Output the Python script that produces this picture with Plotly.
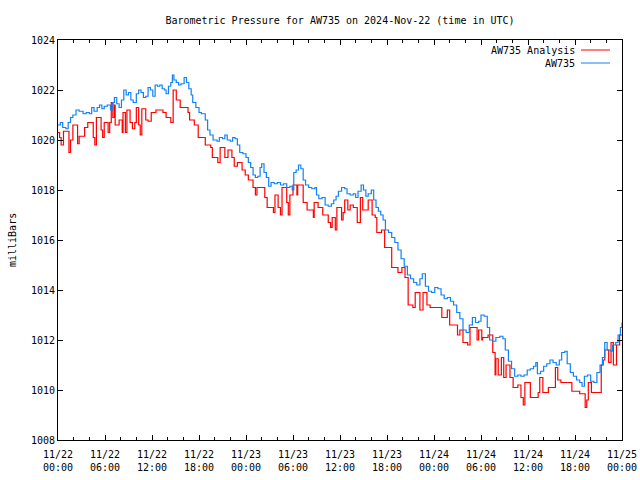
import pandas as pd
import plotly.graph_objects as go

# ---- data (hours since 2024-11-22 00:00 UTC, pressure in mb) ----
obs_hours = [0.0,0.3,0.6,1.0,1.3,1.6,1.9,2.3,2.7,3.2,3.6,4.0,4.3,4.6,5.0,5.3,5.6,5.9,6.3,6.7,
             7.0,7.2,7.5,7.8,8.1,8.4,8.7,9.0,9.3,9.6,10.0,10.3,10.6,10.9,11.2,11.5,11.8,12.1,12.4,12.7,
             13.0,13.3,13.6,13.8,14.1,14.4,14.6,14.8,15.1,15.4,15.7,16.1,16.4,16.7,17.0,17.2,17.6,18.0,18.3,18.8,
             19.1,19.4,19.8,20.3,20.6,21.0,21.3,21.6,22.0,22.3,22.6,22.9,23.2,23.6,24.0,24.3,24.6,24.9,25.2,25.5,
             25.8,26.0,26.3,26.6,26.9,27.2,27.6,28.0,28.4,28.8,29.2,29.6,29.9,30.1,30.4,30.7,31.0,31.3,31.6,32.0,
             32.4,32.8,33.0,33.3,33.7,34.1,34.5,34.9,35.2,35.5,35.8,36.2,36.6,36.9,37.3,37.7,38.0,38.3,38.7,39.0,
             39.3,39.6,40.0,40.3,40.6,40.9,41.2,41.5,41.8,42.2,42.6,43.0,43.4,43.8,44.2,44.6,45.0,45.4,45.8,46.2,
             46.5,46.9,47.3,47.7,48.1,48.5,48.9,49.3,49.7,50.1,50.5,50.9,51.3,51.7,52.1,52.5,52.9,53.3,53.7,54.0,
             54.4,54.8,55.1,55.5,55.9,56.4,56.8,57.1,57.5,57.9,58.3,58.7,59.1,59.5,59.9,60.3,60.7,61.0,61.2,61.6,
             62.0,62.4,62.8,63.2,63.6,64.0,64.3,64.7,65.0,65.4,65.8,66.2,66.6,66.9,67.2,67.6,68.0,68.4,68.8,69.2,
             69.5,69.8,70.1,70.5,70.8,71.2,71.5,71.8,72.0]
obs_mb = [1020.6,1020.7,1020.5,1020.45,1020.7,1020.9,1021.0,1021.2,1021.15,1021.05,1021.1,1021.05,1021.3,1021.15,1021.3,1021.4,1021.25,1021.35,1021.4,1021.2,
          1021.5,1021.7,1021.45,1021.3,1021.6,1022.0,1021.8,1021.9,1021.6,1021.5,1021.85,1022.0,1021.9,1021.7,1021.75,1022.1,1022.0,1021.75,1022.2,1022.15,
          1022.2,1022.05,1022.0,1021.85,1022.15,1022.3,1022.6,1022.4,1022.3,1022.2,1022.25,1022.5,1022.3,1022.05,1021.8,1021.5,1021.3,1021.1,1021.05,1020.8,
          1020.4,1020.2,1020.0,1019.95,1020.1,1020.05,1020.2,1020.0,1019.95,1020.1,1020.05,1019.8,1019.5,1019.45,1019.3,1019.1,1018.9,1018.6,1018.5,1018.55,
          1018.9,1019.05,1018.7,1018.5,1018.15,1018.3,1018.25,1018.3,1018.2,1018.25,1018.1,1018.15,1018.0,1018.7,1018.8,1019.0,1018.85,1018.4,1018.2,1018.1,
          1018.05,1018.1,1017.8,1017.65,1017.7,1017.4,1017.35,1017.45,1017.6,1017.75,1017.95,1018.1,1018.05,1017.85,1017.8,1017.85,1017.7,1017.95,1018.2,1018.0,
          1017.75,1017.85,1018.0,1017.6,1017.3,1017.15,1017.0,1016.8,1016.4,1016.3,1016.1,1015.9,1015.6,1015.25,1014.95,1014.6,1014.45,1014.3,1014.2,1014.45,
          1014.65,1014.15,1013.95,1013.9,1014.1,1014.05,1013.8,1013.65,1013.7,1013.55,1013.4,1013.1,1012.85,1012.4,1012.3,1012.6,1012.9,1012.7,1012.75,1013.0,
          1012.95,1012.5,1012.0,1011.95,1012.1,1012.15,1012.05,1011.6,1011.15,1010.85,1010.55,1010.6,1010.55,1010.6,1010.8,1010.85,1010.95,1011.1,1010.65,1010.75,
          1010.95,1011.05,1011.2,1011.1,1011.0,1011.2,1011.5,1011.55,1011.05,1010.7,1010.55,1010.4,1010.3,1010.15,1010.55,1010.6,1010.35,1010.3,1010.7,1011.0,
          1011.3,1011.9,1011.6,1011.55,1011.8,1011.9,1012.2,1012.5,1012.7]

ana_hours = [0.0,0.2,0.4,0.7,1.4,1.6,1.9,2.5,2.7,3.4,3.8,4.5,4.7,4.9,5.5,5.7,5.9,6.4,6.6,6.8,
             7.0,7.2,7.3,7.8,8.2,8.3,8.6,8.8,9.2,9.5,9.8,10.0,10.3,10.5,10.7,11.2,11.5,11.9,12.5,13.4,
             13.8,14.4,14.7,15.1,15.6,16.6,16.8,17.4,17.9,18.8,19.5,19.7,20.4,20.7,21.3,21.7,22.2,22.5,22.9,23.5,
             23.9,24.3,24.9,25.2,25.4,26.4,26.7,27.5,27.7,28.1,28.4,28.6,29.2,29.4,29.6,30.0,30.5,30.6,31.3,31.8,
             32.6,32.7,33.2,33.8,34.5,34.8,35.0,35.4,35.6,36.2,36.4,36.6,37.0,37.3,37.7,38.2,38.6,38.9,39.6,40.1,
             40.5,40.7,41.3,41.7,42.6,43.4,43.9,44.3,44.7,45.3,45.6,46.2,46.6,47.1,47.5,49.0,49.7,50.0,51.0,51.3,
             51.7,52.3,52.6,53.5,53.7,54.1,54.2,54.9,55.5,55.8,55.9,56.2,56.6,56.9,57.2,57.7,58.1,58.7,59.1,59.4,
             59.6,60.3,61.3,61.5,61.9,62.6,63.5,63.8,64.2,65.6,66.6,67.3,67.5,67.7,68.1,69.35,69.6,69.8,70.3,70.6,
             70.9,71.3,71.7,72.0]
ana_mb = [1020.3,1020.1,1019.8,1020.35,1019.5,1020.0,1020.6,1019.85,1020.15,1020.5,1020.7,1020.1,1019.8,1020.9,1020.4,1020.1,1020.7,1020.3,1020.7,1021.5,
          1020.9,1021.4,1020.6,1020.8,1020.3,1021.1,1020.3,1021.2,1020.7,1020.45,1020.7,1021.3,1020.6,1020.2,1021.25,1020.8,1020.75,1021.1,1021.2,1021.1,
          1020.9,1020.7,1022.0,1021.6,1021.3,1021.1,1020.8,1020.6,1020.1,1019.8,1019.7,1019.3,1019.1,1019.7,1019.3,1019.6,1019.3,1018.95,1019.1,1018.8,
          1018.6,1018.4,1018.1,1017.8,1018.1,1017.7,1017.3,1017.1,1017.8,1017.3,1017.0,1018.1,1017.5,1017.0,1017.8,1018.2,1017.8,1018.2,1017.5,1017.2,
          1016.9,1017.5,1017.3,1017.0,1016.7,1016.5,1016.9,1016.4,1017.3,1016.8,1017.1,1017.6,1017.2,1017.4,1017.3,1016.7,1017.7,1017.2,1017.6,1017.0,
          1016.9,1016.3,1016.4,1015.7,1014.9,1014.7,1014.9,1014.5,1013.4,1013.3,1013.9,1013.2,1013.9,1013.4,1013.3,1012.9,1013.2,1012.6,1012.2,1012.4,
          1011.9,1011.8,1012.5,1012.0,1012.4,1012.0,1012.1,1012.2,1011.5,1010.6,1011.25,1010.6,1011.3,1010.5,1011.0,1010.5,1010.1,1010.2,1009.7,1009.4,
          1010.3,1009.7,1009.9,1010.5,1009.9,1010.1,1010.9,1010.4,1010.3,1009.95,1009.85,1009.3,1009.6,1010.3,1009.9,1011.0,1011.2,1011.6,1011.1,1011.9,
          1011.0,1011.8,1012.2,1012.2]

tick_hours = [0, 6, 12, 18, 24, 30, 36, 42, 48, 54, 60, 66, 72]
tick_text = ["11/22<br>00:00", "11/22<br>06:00", "11/22<br>12:00", "11/22<br>18:00",
             "11/23<br>00:00", "11/23<br>06:00", "11/23<br>12:00", "11/23<br>18:00",
             "11/24<br>00:00", "11/24<br>06:00", "11/24<br>12:00", "11/24<br>18:00",
             "11/25<br>00:00"]
y_ticks = [1008, 1010, 1012, 1014, 1016, 1018, 1020, 1022, 1024]

base = pd.Timestamp("2024-11-22 00:00")
to_t = lambda hs: [base + pd.Timedelta(hours=h) for h in hs]

RED = "#ff0000"
BLUE = "#0f82f5"
FONT = "DejaVu Sans Mono"

fig = go.Figure()
fig.add_trace(go.Scatter(x=to_t(ana_hours), y=ana_mb, mode="lines", line_shape="hv",
                         line=dict(color=RED, width=1.2), name="AW735 Analysis"))
fig.add_trace(go.Scatter(x=to_t(obs_hours), y=obs_mb, mode="lines", line_shape="hv",
                         line=dict(color=BLUE, width=1.2), name="AW735"))

fig.update_layout(
    width=640, height=480,
    margin=dict(l=58, r=18, t=40, b=40, autoexpand=False),
    paper_bgcolor="white", plot_bgcolor="white",
    showlegend=False, hovermode=False,
    font=dict(family=FONT, size=10, color="black"),
    title=dict(text="Barometric Pressure for AW735 on 2024-Nov-22 (time in UTC)",
               x=340/640, xanchor="center", y=1-20/480, yanchor="middle",
               font=dict(family=FONT, size=10, color="black")),
)
fig.update_xaxes(
    type="date", range=[base, base + pd.Timedelta(hours=72)], automargin=False,
    tickvals=to_t(tick_hours), ticktext=tick_text,
    showgrid=False, zeroline=False, showline=True, linecolor="black", linewidth=1,
    mirror="ticks", ticks="inside", ticklen=5, tickcolor="black",
    minor=dict(dtick=2*3600*1000, tick0=base, ticks="inside", ticklen=3, tickcolor="black", showgrid=False),
    tickfont=dict(family=FONT, size=10), ticklabelstandoff=5,
)
fig.update_yaxes(
    range=[1008, 1024], tickvals=y_ticks, automargin=False,
    showgrid=False, zeroline=False, showline=True, linecolor="black", linewidth=1,
    mirror="ticks", ticks="inside", ticklen=5, tickcolor="black",
    tickfont=dict(family=FONT, size=10),
)
fig.add_annotation(xref="paper", yref="paper", x=-46/564, y=0.5, text="milliBars",
                   textangle=-90, showarrow=False, xanchor="center", yanchor="middle",
                   font=dict(family=FONT, size=10, color="black"))

# gnuplot-style key (text right-aligned, sample line to the right)
for i, (lbl, col) in enumerate([("AW735 Analysis", RED), ("AW735", BLUE)]):
    ypx = 50 + 13 * i
    yp = 1 - (ypx - 40) / 400
    fig.add_annotation(xref="paper", yref="paper", x=(577 - 58) / 564, y=yp,
                       text=lbl, showarrow=False, xanchor="right", yanchor="middle",
                       font=dict(family=FONT, size=10, color="black"))
    fig.add_shape(type="line", xref="paper", yref="paper",
                  x0=(581 - 58) / 564, x1=(610 - 58) / 564, y0=yp, y1=yp,
                  line=dict(color=col, width=1))

fig.write_html("out.html", config={"displayModeBar": False, "staticPlot": True},
               post_script="document.body.style.margin='0';document.body.style.overflow='hidden';")
